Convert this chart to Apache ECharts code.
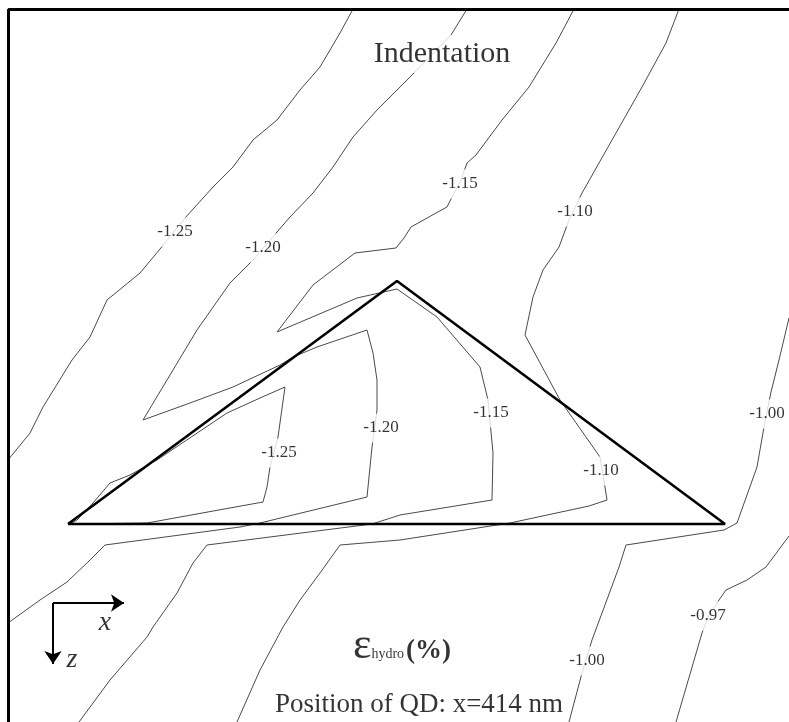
<!DOCTYPE html>
<html>
<head>
<meta charset="utf-8">
<script src="https://cdn.jsdelivr.net/npm/echarts@6/dist/echarts.min.js"></script>
<style>
  html, body { margin: 0; padding: 0; background: #fff; }
  #chart { width: 789px; height: 722px; }
</style>
</head>
<body>
<div id="chart"></div>
<script>
// Hydrostatic strain contours, plot units: x to the right, z downward.
const contourLeftOuter125 = [[353,9],[340,33],[320,67],[300,90],[277,120],[253,140],[233,167],[213,187],[185,218],[165,243],[140,273],[107,300],[90,337],[72,360],[43,407],[30,433],[8,460]];
const contour120 = [[467,9],[451,35],[417,70],[389,98],[377,110],[353,137],[333,167],[313,193],[290,217],[277,232],[253,260],[230,283],[197,330],[143,420],[190,403],[233,387],[280,365],[293,357],[317,347],[367,330],[373,353],[377,380],[377,410],[372,447],[367,497],[260,523],[240,527],[105,545],[90,560],[67,582],[40,600],[8,623]];
const contour115 = [[574,9],[556,43],[529,87],[502,120],[476,155],[467,163],[461,180],[452,197],[447,207],[436,213],[411,227],[404,238],[396,248],[355,253],[313,285],[277,332],[357,298],[397,289],[437,317],[480,367],[488,400],[493,453],[492,500],[400,515],[372,524],[207,545],[193,563],[177,593],[153,627],[147,637],[110,680],[79,722]];
const contour110 = [[679,9],[666,43],[642,87],[616,133],[582,193],[569,220],[559,247],[543,270],[533,297],[525,335],[560,400],[600,457],[605,487],[607,500],[589,506],[510,523],[400,540],[340,545],[320,573],[300,600],[283,627],[260,670],[237,722]];
const contour100 = [[789,318],[779,360],[771,392],[764,427],[757,467],[737,523],[724,530],[626,545],[619,567],[602,613],[592,640],[582,673],[569,722]];
const contour097 = [[789,536],[766,567],[747,580],[726,590],[719,600],[709,615],[702,633],[676,722]];
const contourInner125 = [[285,387],[260,398],[227,413],[157,460],[130,475],[110,483],[93,503],[77,520],[70,524],[147,523],[263,502],[267,487],[270,467],[278,437],[285,387]];

// Level labels placed on the contours
const levelLabels = [
  [175,232,'-1.25'], [263,248,'-1.20'], [460,184,'-1.15'], [575,212,'-1.10'],
  [279,453,'-1.25'], [381,428,'-1.20'], [491,413,'-1.15'], [601,471,'-1.10'],
  [767,414,'-1.00'], [708,616,'-0.97'], [587,661,'-1.00']
];

// Indenter cross-section (triangle)
const indenter = [[68,524],[397,281],[725,524],[68,524]];

// Plot frame (left and top edges)
const frameEdges = [[8.5,722],[8.5,9.5],[789,9.5]];

// Coordinate-system arrows and their letters
const axisArrows = [[[53,603],[124,603]], [[53,603],[53,664]]];
const axisLetters = [[105,623,'x'], [72,660,'z']];

// Text annotations
const titleText = [442,54,'Indentation'];
const quantityText = [402,648];
const positionText = [419,705,'Position of QD: x=414 nm'];

const SERIF = "'Liberation Serif', 'Times New Roman', serif";

const contours = [contourLeftOuter125, contour120, contour115, contour110, contour100, contour097, contourInner125];

const chart = echarts.init(document.getElementById('chart'), null, { renderer: 'canvas' });

chart.setOption({
  animation: false,
  backgroundColor: '#ffffff',
  grid: { left: 0, right: 0, top: 0, bottom: 0 },
  xAxis: { type: 'value', min: 0, max: 789, show: false },
  yAxis: { type: 'value', min: 0, max: 722, inverse: true, show: false },
  series: [
    {
      type: 'lines',
      coordinateSystem: 'cartesian2d',
      polyline: true,
      silent: true,
      z: 2,
      lineStyle: { color: '#4a4a4a', width: 1, opacity: 1 },
      data: contours.map(c => ({ coords: c }))
    },
    {
      type: 'line',
      data: indenter,
      symbol: 'none',
      silent: true,
      z: 3,
      lineStyle: { color: '#000', width: 2.6 }
    },
    {
      type: 'line',
      data: frameEdges,
      symbol: 'none',
      silent: true,
      z: 3,
      lineStyle: { color: '#000', width: 3 }
    },
    {
      type: 'lines',
      coordinateSystem: 'cartesian2d',
      silent: true,
      z: 3,
      symbol: ['none', 'arrow'],
      symbolSize: 13,
      lineStyle: { color: '#000', width: 2, opacity: 1 },
      data: axisArrows.map(a => ({ coords: a }))
    },
    {
      type: 'scatter',
      symbolSize: 0,
      silent: true,
      z: 5,
      data: levelLabels.map(d => ({ value: [d[0], d[1]], name: d[2] })),
      label: {
        show: true,
        position: 'inside',
        formatter: p => p.name,
        fontFamily: SERIF,
        fontSize: 17,
        color: '#000',
        backgroundColor: '#fff',
        padding: [6, 1]
      }
    },
    {
      type: 'scatter',
      symbolSize: 0,
      silent: true,
      z: 5,
      data: axisLetters.map(d => ({ value: [d[0], d[1]], name: d[2] })),
      label: {
        show: true,
        position: 'inside',
        formatter: p => p.name,
        fontFamily: SERIF,
        fontStyle: 'italic',
        fontSize: 28,
        color: '#000'
      }
    },
    {
      type: 'scatter',
      symbolSize: 0,
      silent: true,
      z: 5,
      data: [
        { value: [titleText[0], titleText[1]], name: titleText[2],
          label: { fontSize: 30, backgroundColor: '#fff', padding: [4, 2] } },
        { value: [positionText[0], positionText[1]], name: positionText[2],
          label: { fontSize: 27 } },
        { value: quantityText, name: 'q',
          label: {
            formatter: '{e|ε}{s|hydro}{p|(%)}',
            rich: {
              e: { fontFamily: SERIF, fontSize: 44, color: '#000', lineHeight: 40, verticalAlign: 'bottom' },
              s: { fontFamily: SERIF, fontSize: 14, color: '#000', lineHeight: 40, verticalAlign: 'bottom', padding: [0, 2, 7, 0] },
              p: { fontFamily: SERIF, fontSize: 27, fontWeight: 'bold', color: '#000', lineHeight: 40, verticalAlign: 'bottom', padding: [0, 0, 3, 0] }
            }
          } }
      ],
      label: {
        show: true,
        position: 'inside',
        formatter: p => p.name,
        fontFamily: SERIF,
        color: '#000'
      }
    }
  ]
});
</script>
</body>
</html>
